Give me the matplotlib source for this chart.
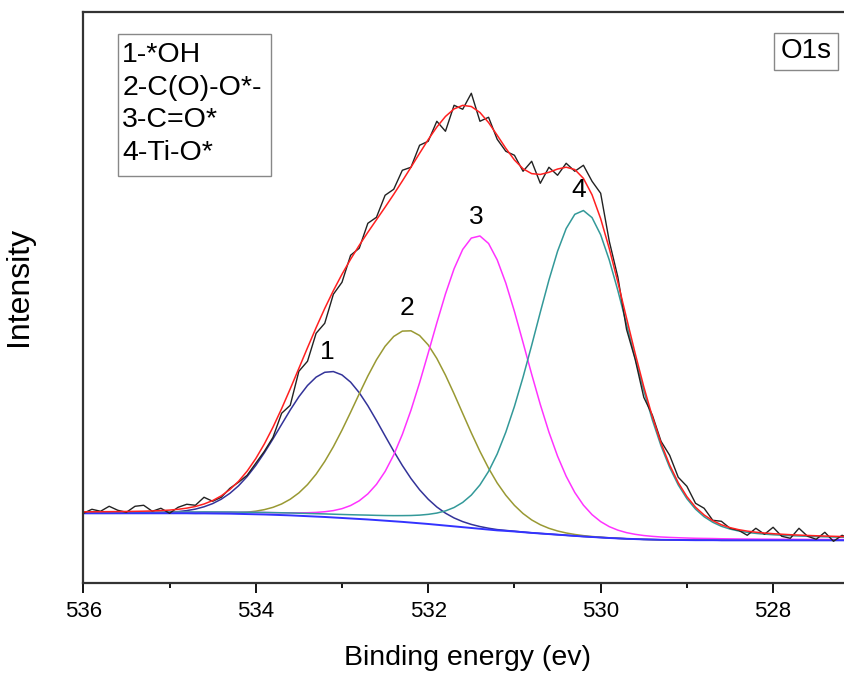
import numpy as np
import matplotlib
matplotlib.use("Agg")
import matplotlib.pyplot as plt
from matplotlib.patches import Rectangle
from matplotlib.ticker import MultipleLocator

plt.rcParams['font.family'] = ['Liberation Sans', 'DejaVu Sans']

# scan grid (eV), 0.1 eV steps from 536.0 down to 527.1
energy = np.round(np.arange(536.0, 527.05, -0.1), 1)

# raw counts (arbitrary units)
raw = [70, 74, 72, 77, 73, 71, 77, 78, 72, 75,
       70, 76, 79, 78, 86, 82, 86, 95, 101, 108,
       120, 132, 146, 170, 178, 212, 222, 250, 260, 289,
       301, 328, 335, 360, 366, 388, 394, 413, 416, 438,
       442, 462, 452, 478, 474, 490, 462, 466, 444, 432,
       428, 412, 422, 400, 416, 408, 420, 412, 418, 402,
       390, 342, 306, 254, 224, 186, 168, 142, 128, 106,
       97, 80, 75, 63, 62, 55, 53, 48, 55, 49,
       56, 47, 45, 55, 47, 44, 51, 42, 48, 44]

# Shirley background (blue line), same grid
background = [70, 70, 70, 70, 70, 70, 70, 70, 70, 70,
              70, 70, 70, 69.9, 69.9, 69.8, 69.7, 69.6, 69.4, 69.2,
              69.0, 68.8, 68.5, 68.2, 67.9, 67.5, 67.1, 66.7, 66.3, 65.8,
              65.3, 64.8, 64.3, 63.8, 63.2, 62.6, 62.0, 61.4, 60.7, 60.0,
              59.3, 58.5, 57.7, 56.9, 56.1, 55.3, 54.5, 53.7, 52.9, 52.4,
              51.8, 51.1, 50.4, 49.8, 49.2, 48.6, 48.0, 47.4, 46.8, 46.3,
              45.8, 45.3, 44.9, 44.5, 44.2, 43.9, 43.7, 43.5, 43.4, 43.3,
              43.2, 43.1, 43.1, 43.1, 43.0, 43.0, 43.0, 43.0, 43.0, 43.0,
              43.0, 43.0, 43.0, 43.0, 43.0, 43.0, 43.0, 43.0, 43.0, 43.0]

# fitted components: 1 -*OH, 2 -C(O)-O*-, 3 -C=O*, 4 -Ti-O*
peak_center = [533.12, 532.23, 531.42, 530.21]
peak_height = [146, 192, 293, 326]
peak_fwhm = [1.40, 1.45, 1.32, 1.33]
lorentz_frac = [0.0, 0.0, 0.1, 0.2]
peak_colors = ['#333399', '#999933', '#ff33ff', '#339999']
peak_labels = ['1', '2', '3', '4']
legend_lines = ['1-*OH', '2-C(O)-O*-', '3-C=O*', '4-Ti-O*']

fig = plt.figure(figsize=(8.44, 6.74), dpi=100)
ax = fig.add_axes([0.0987, 0.1346, 0.9113, 0.8472])

bg = np.array(background)
components = []
for c, h, w, eta in zip(peak_center, peak_height, peak_fwhm, lorentz_frac):
    u = (energy - c) / w
    shape = (1 - eta) * np.exp(-4 * np.log(2) * u**2) + eta / (1 + 4 * u**2)
    components.append(h * shape)

for comp, col in zip(components, peak_colors):
    ax.plot(energy, bg + comp, color=col, lw=1.1)
ax.plot(energy, bg, color='#3333ff', lw=1.4)
ax.plot(energy, raw, color='#222222', lw=1.0)
ax.plot(energy, bg + np.sum(components, axis=0), color='#ff2020', lw=1.1)

# peak numbers
label_pos = [(533.17, 231), (532.25, 275), (531.44, 366), (530.26, 393)]
for (x, y), t in zip(label_pos, peak_labels):
    ax.text(x, y, t, fontsize=19, ha='center', va='center')

# legend box
ax.add_patch(Rectangle((0.0452, 0.7138), 0.1989, 0.2482, transform=ax.transAxes,
                       fill=False, edgecolor='#888888', lw=1.0))
for i, t in enumerate(legend_lines):
    ax.text(0.0505, 0.9252 - i * 0.0571, t, transform=ax.transAxes,
            fontsize=20.5, ha='left', va='center')

# O1s tag
ax.add_patch(Rectangle((0.8984, 0.8987), 0.0832, 0.0656, transform=ax.transAxes,
                       fill=False, edgecolor='#888888', lw=1.0))
ax.text(0.9399, 0.9317, 'O1s', transform=ax.transAxes, fontsize=20,
        ha='center', va='center')

ax.set_xlim(536, 527.08)
ax.set_ylim(0, 571)
ax.xaxis.set_major_locator(MultipleLocator(2))
ax.xaxis.set_minor_locator(MultipleLocator(1))
ax.set_yticks([])
ax.tick_params(axis='x', which='major', direction='out', length=7, width=1.3,
               labelsize=16, pad=6)
ax.tick_params(axis='x', which='minor', direction='out', length=3.5, width=1.3)

for s in ['left', 'bottom', 'top']:
    ax.spines[s].set_linewidth(1.6)
    ax.spines[s].set_color('#333333')
ax.spines['right'].set_visible(False)

ax.set_xlabel('Binding energy (ev)', fontsize=20.5, labelpad=16)
ax.set_ylabel('Intensity', fontsize=23)
ax.yaxis.set_label_coords(-0.0635, 0.52)

plt.savefig('out.png', dpi=100)
